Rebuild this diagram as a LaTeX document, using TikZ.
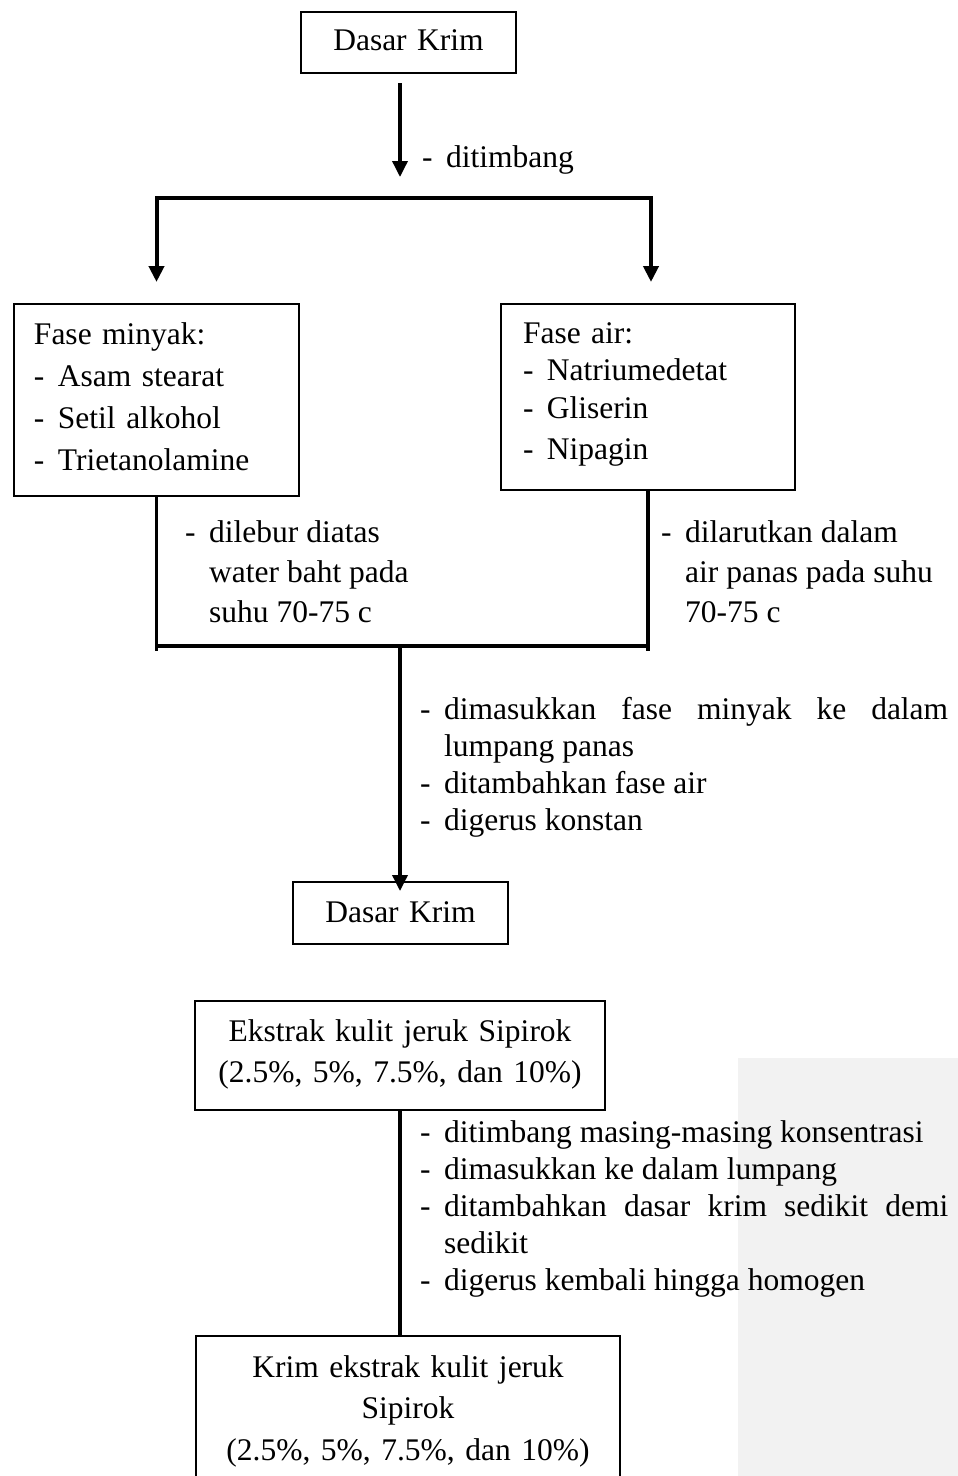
\documentclass[tikz,border=0pt]{standalone}
\usepackage{fontspec}
\setmainfont{Liberation Serif}
\usetikzlibrary{arrows.meta}
\definecolor{bggray}{HTML}{F2F2F2}
\newcommand\dsh{\makebox[24pt][l]{-}}
\newcommand\ind{\hspace*{24pt}}
\newcommand\fsz[1]{\fontsize{31.5pt}{#1}\selectfont}
\begin{document}
\begin{tikzpicture}[x=1pt,y=-1pt,
  box/.style={draw, line width=2pt, inner ysep=0pt, anchor=north west},
  lbl/.style={anchor=base west, inner sep=0pt, align=left},
  conn/.style={line width=3.5pt},
  tip/.tip={Triangle[length=16pt,width=15pt]},
  arr/.style={conn, -tip},
]
\useasboundingbox (0,0) rectangle (958,1476);
\fill[bggray] (738,1058) rectangle (958,1490);

% boxes
\node[box, inner xsep=0pt, text width=215pt, align=center,
      text height=38.3pt, text depth=22.2pt, font=\fsz{42pt}] (top) at (300,11) {Dasar Krim};
\node[box, inner xsep=20pt, text width=245pt, align=left,
      text height=40pt, text depth=152pt, font=\fsz{42.3pt}] (lbox) at (13,303)
  {Fase minyak:\\ \dsh Asam stearat\\ \dsh Setil alkohol\\ \dsh Trietanolamine};
\node[box, inner xsep=22pt, text width=250pt, align=left,
      text height=39pt, text depth=147pt, font=\fsz{37.8pt}] (rbox) at (500,303)
  {Fase air:\\ \dsh Natriumedetat\\ \dsh Gliserin\\[2.8pt] \dsh Nipagin};
\node[box, inner xsep=0pt, text width=215pt, align=center,
      text height=40.7pt, text depth=21.3pt, font=\fsz{42pt}] (dk) at (292,881) {Dasar Krim};
\node[box, inner xsep=0pt, text width=410pt, align=center,
      text height=40pt, text depth=69pt, font=\fsz{41pt}] (ek) at (194,1000)
  {Ekstrak kulit jeruk Sipirok\\ (2.5\%, 5\%, 7.5\%, dan 10\%)};
\node[box, inner xsep=0pt, text width=424pt, align=center,
      text height=41pt, text depth=114pt, font=\fsz{41.5pt}] (kr) at (195,1335)
  {Krim ekstrak kulit jeruk\\ Sipirok\\ (2.5\%, 5\%, 7.5\%, dan 10\%)};

% labels (anchored at the baseline of their last line)
\node[lbl, font=\fsz{40pt}] (l1) at (422,167) {\dsh ditimbang};
\node[lbl, font=\fsz{40pt}] (l2) at (185,622)
  {\dsh dilebur diatas\\ \ind water baht pada\\ \ind suhu 70-75 c};
\node[lbl, font=\fsz{40pt}] (l3) at (661,622)
  {\dsh dilarutkan dalam\\ \ind air panas pada suhu\\ \ind 70-75 c};
\node[lbl, font=\fsz{36.7pt}] (l4) at (420,830)
  {\dsh\hbox to 504pt{dimasukkan\hfil fase\hfil minyak\hfil ke\hfil dalam}\\
   \ind lumpang panas\\ \dsh ditambahkan fase air\\ \dsh digerus konstan};
\node[lbl, font=\fsz{36.8pt}] (l5) at (420,1290)
  {\dsh ditimbang masing-masing konsentrasi\\
   \dsh dimasukkan ke dalam lumpang\\
   \dsh\hbox to 504pt{ditambahkan\hfil dasar\hfil krim\hfil sedikit\hfil demi}\\
   \ind sedikit\\
   \dsh digerus kembali hingga homogen};

% connectors
\coordinate (a1s) at (400,83);
\coordinate (a1e) at (400,177);
\draw[arr] (a1s) -- (a1e);

\coordinate (tipL) at (156.5,282);
\coordinate (spL) at (156.5,198);
\coordinate (spR) at (651,198);
\coordinate (tipR) at (651,282);
\draw[conn, line width=4pt, tip-tip] (tipL) -- (spL) -- (spR) -- (tipR);

\coordinate (mrg) at (400,646);
\coordinate (tickEnd) at (400,651);
\draw[conn] (lbox.south) -- (lbox.south |- tickEnd);
\draw[conn] (rbox.south) -- (rbox.south |- tickEnd);
\draw[conn, line width=4.5pt] (lbox.south |- mrg) -- (rbox.south |- mrg);
\coordinate (tipC) at (400,891);
\draw[arr] (mrg) -- (tipC);

\draw[conn, line width=4pt] (ek.south) -- (ek.south |- kr.north);
\end{tikzpicture}
\end{document}
